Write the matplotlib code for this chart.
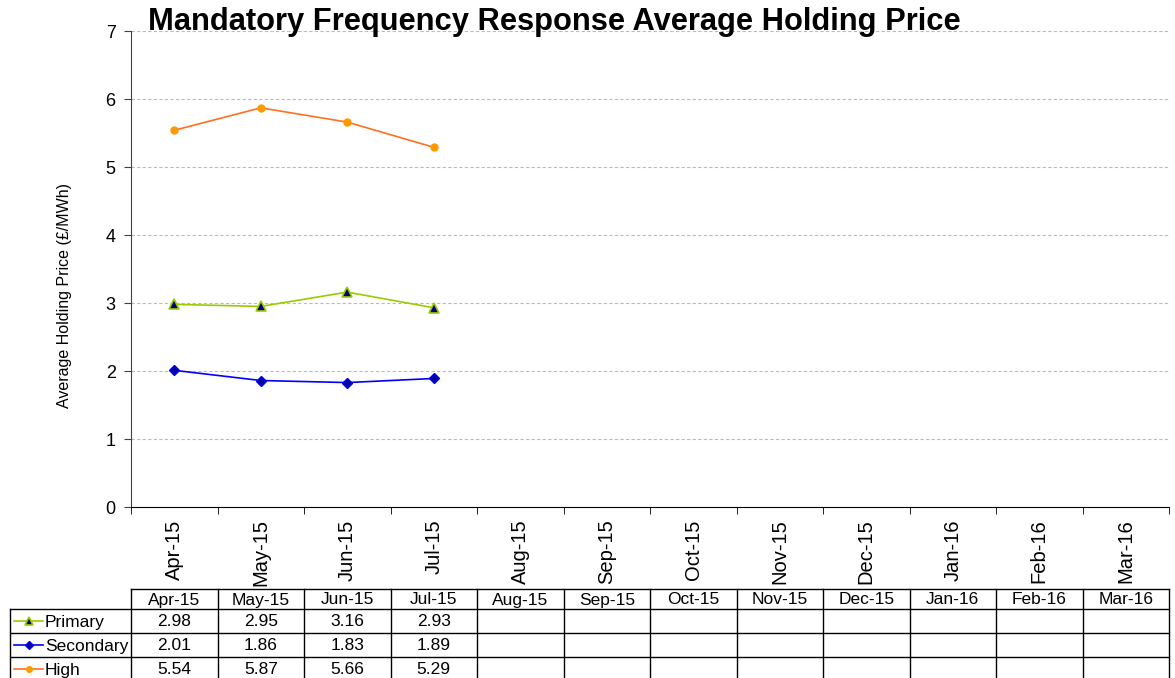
import matplotlib
matplotlib.use("Agg")
import matplotlib.pyplot as plt
from matplotlib.lines import Line2D

plt.rcParams['font.family'] = ['Liberation Sans', 'DejaVu Sans']

months = ["Apr-15", "May-15", "Jun-15", "Jul-15", "Aug-15", "Sep-15",
          "Oct-15", "Nov-15", "Dec-15", "Jan-16", "Feb-16", "Mar-16"]
series_names = ["Primary", "Secondary", "High"]
primary = [2.98, 2.95, 3.16, 2.93]
secondary = [2.01, 1.86, 1.83, 1.89]
high = [5.54, 5.87, 5.66, 5.29]
values = [primary, secondary, high]

styles = [
    dict(color="#99CC00", marker="^", mfc="#000080", mec="#99CC00", ms=7, mew=1.2),
    dict(color="#0000FF", marker="D", mfc="#000099", mec="#0000FF", ms=5, mew=1.0),
    dict(color="#FF7020", marker="o", mfc="#FF9900", mec="#FF9900", ms=5, mew=1.0),
]

W, H = 1175, 678
fig = plt.figure(figsize=(W / 100, H / 100), dpi=100)

L, R, T, B = 131, 1169, 31, 507
ax = fig.add_axes([L / W, 1 - B / H, (R - L) / W, (B - T) / H])

for vals, name, st in zip(values, series_names, styles):
    ax.plot(range(len(vals)), vals, lw=1.2, label=name, **st)

ax.set_xlim(-0.5, len(months) - 0.5)
ax.set_ylim(0, 7)
ax.set_yticks(range(0, 8))
ax.yaxis.grid(True, linestyle=(0, (3, 2)), color="#BBBBBB", lw=0.8)
ax.set_axisbelow(True)
ax.set_xticks(range(len(months)))
ax.set_xticklabels(months, rotation=90, fontsize=14.5)
ax.tick_params(axis='x', which='major', length=0, pad=9)
ax.set_xticks([i - 0.5 for i in range(len(months) + 1)], minor=True)
ax.tick_params(axis='x', which='minor', length=5, direction='out', color='black')
ax.tick_params(axis='y', length=5, direction='out', labelsize=13, color='#404040', pad=6)
for s in ['top', 'right']:
    ax.spines[s].set_visible(False)
ax.spines['left'].set_color('#404040')
ax.spines['bottom'].set_color('black')

fig.text(65 / W, 1 - 296 / H, "Average Holding Price (£/MWh)", fontsize=11.5,
         rotation=90, ha='center', va='center')

fig.text(148 / W, 1 - 30 / H, "Mandatory Frequency Response Average Holding Price",
         fontsize=22.2, fontweight='bold', ha='left', va='baseline')

# data table
TL, TT = 10, 589
tax = fig.add_axes([0, 0, 1, 1])
tax.set_xlim(0, W)
tax.set_ylim(H, 0)
tax.axis('off')
ncol = len(months)
cw = (R - L) / ncol
hdr_h, row_h = 20, 24
lw = 1.0
ys = [TT, TT + hdr_h] + [TT + hdr_h + row_h * (i + 1) for i in range(len(series_names))]
tax.plot([L, R], [TT, TT], color='black', lw=lw)
for i in range(1, len(ys)):
    tax.plot([TL, R], [ys[i], ys[i]], color='black', lw=lw)
for j in range(ncol + 1):
    x = L + j * cw
    tax.plot([x, x], [TT, H + 10], color='black', lw=lw)
tax.plot([TL, TL], [TT + hdr_h, H + 10], color='black', lw=lw)
for j, m in enumerate(months):
    tax.text(L + (j + 0.5) * cw, TT + hdr_h / 2 + 1, m, ha='center', va='center', fontsize=12.5)
for i, (name, vals, st) in enumerate(zip(series_names, values, styles)):
    yc = TT + hdr_h + row_h * (i + 0.5)
    tax.add_line(Line2D([14, 43], [yc, yc], color=st['color'], lw=1.2))
    tax.add_line(Line2D([28.5], [yc], marker=st['marker'], mfc=st['mfc'], mec=st['mec'],
                        ms=st['ms'] - 1, mew=st['mew'], ls='none'))
    tax.text(45, yc + 1, name, ha='left', va='center', fontsize=12.5)
    for j, v in enumerate(vals):
        tax.text(L + (j + 0.5) * cw, yc + 1, f"{v:.2f}", ha='center', va='center', fontsize=12.5)

fig.savefig("out.png", dpi=100)
